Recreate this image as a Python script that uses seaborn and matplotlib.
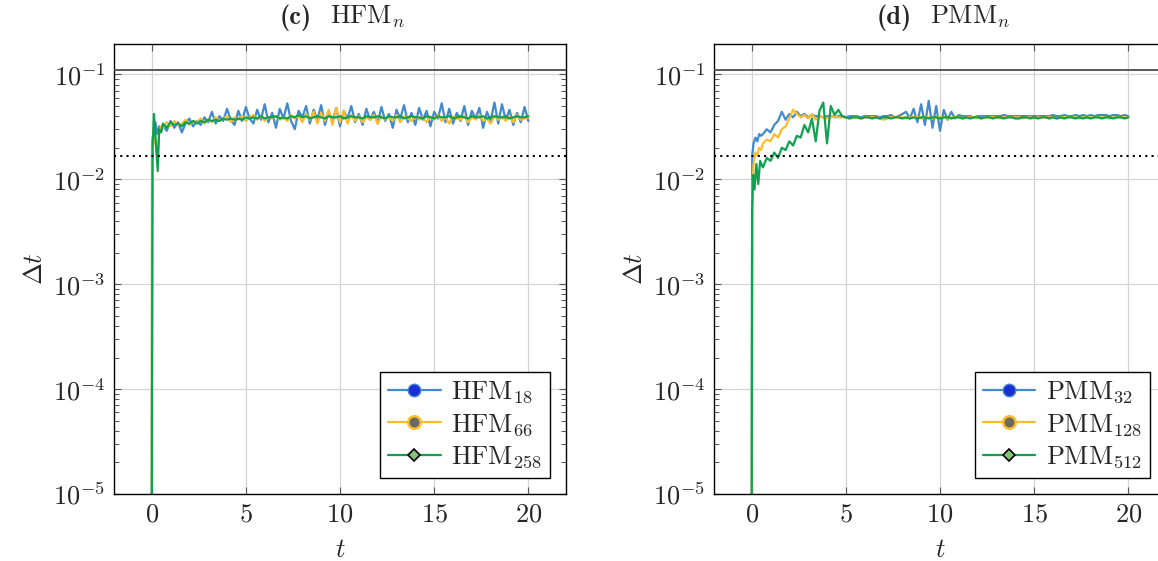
import numpy as np
import pandas as pd
import matplotlib
matplotlib.use("Agg")
import matplotlib.pyplot as plt
from matplotlib.lines import Line2D
from matplotlib.ticker import LogLocator, FixedLocator, NullFormatter
import seaborn as sns

# ---------------------------------------------------------------- data
# time-step history Delta t (in units of 1e-3) for each scheme
# start-up phase (irregular output times)
HFM18_T0 = [0.0, 0.02, 0.1, 0.2, 0.3, 0.4, 0.5]
HFM18_V0 = [0.001, 22, 28, 35, 27, 32, 29]
HFM66_T0 = [0.0, 0.02, 0.1, 0.2, 0.3, 0.4, 0.5]
HFM66_V0 = [0.001, 20, 30, 22, 17, 28, 32]
HFM258_T0 = [0.0, 0.05, 0.12, 0.2, 0.32, 0.4, 0.5]
HFM258_V0 = [0.001, 20, 42, 26, 12, 30, 28]

PMM32_T0 = [0.0, 0.03, 0.1, 0.2, 0.3, 0.4, 0.5]
PMM32_V0 = [0.001, 17, 22, 25, 23, 27, 26]
PMM128_T0 = [0.0, 0.03, 0.1, 0.2, 0.3, 0.4, 0.5]
PMM128_V0 = [0.001, 7, 14, 18, 17, 20, 19]
PMM512_T0 = [0.0, 0.02, 0.08, 0.15, 0.25, 0.35, 0.45]
PMM512_V0 = [0.001, 5, 11, 8, 14, 9, 15]

# regular output every 0.2 time units from t = 0.6 to t = 20
HFM18 = [33, 29, 36, 31, 35, 28, 34, 38, 32, 36,
         33, 39, 35, 44, 34, 40, 36, 47, 37, 33,
         45, 36, 49, 38, 34, 46, 37, 52, 35, 43,
         31, 47, 38, 53, 36, 30, 45, 39, 50, 34,
         46, 37, 51, 33, 44, 36, 48, 32, 45, 38,
         50, 35, 42, 33, 47, 37, 44, 34, 49, 36,
         42, 31, 46, 38, 51, 35, 43, 33, 48, 37,
         45, 32, 44, 38, 53, 35, 47, 34, 43, 36,
         50, 33, 45, 38, 48, 31, 44, 36, 54, 34,
         52, 37, 46, 33, 43, 35, 49, 36]
HFM66 = [31, 35, 32, 36, 33, 34, 37, 33, 36, 35,
         38, 34, 37, 35, 39, 36, 38, 40, 35, 39,
         37, 40, 36, 39, 41, 37, 40, 36, 39, 38,
         40, 37, 39, 36, 41, 38, 40, 35, 42, 37,
         44, 34, 43, 36, 46, 33, 48, 35, 45, 34,
         41, 36, 40, 35, 39, 37, 41, 34, 40, 37,
         39, 36, 41, 35, 40, 38, 36, 40, 37, 39,
         35, 40, 37, 41, 36, 39, 34, 40, 38, 37,
         40, 35, 39, 37, 41, 36, 38, 34, 40, 37,
         39, 36, 40, 35, 41, 37, 38, 39]
HFM258 = [34, 31, 35, 33, 34, 32, 35, 34, 36, 34,
          36, 35, 37, 36, 37, 36, 38, 37, 38, 37,
          38, 37, 39, 38, 39, 38, 40, 38, 39, 39,
          40, 38, 39, 38, 40, 39, 41, 39, 40, 38,
          39, 40, 39, 38, 40, 39, 39, 40, 38, 39,
          40, 39, 39, 38, 40, 39, 39, 40, 39, 38,
          40, 39, 39, 40, 38, 39, 40, 39, 39, 38,
          40, 39, 38, 40, 39, 39, 40, 38, 39, 40,
          39, 38, 40, 39, 39, 40, 38, 39, 40, 39,
          39, 40, 38, 39, 40, 39, 39, 40]

PMM32 = [27, 30, 28, 33, 36, 44, 37, 42, 39, 44,
         40, 42, 39, 41, 40, 40, 39, 40, 40, 39,
         40, 40, 39, 40, 40, 40, 39, 40, 40, 40,
         40, 39, 40, 40, 41, 39, 40, 42, 44, 38,
         47, 35, 52, 33, 56, 31, 50, 29, 46, 37,
         44, 38, 41, 40, 40, 40, 39, 40, 40, 40,
         40, 40, 40, 40, 41, 40, 40, 40, 40, 40,
         40, 40, 40, 40, 40, 40, 40, 41, 40, 40,
         41, 40, 40, 41, 40, 41, 40, 41, 40, 41,
         41, 41, 40, 41, 41, 40, 41, 40]
PMM128 = [22, 24, 23, 27, 25, 30, 32, 38, 46, 42,
          39, 41, 38, 42, 37, 40, 39, 38, 40, 39,
          39, 39, 39, 38, 39, 39, 38, 39, 39, 39,
          39, 38, 37, 38, 39, 39, 39, 39, 38, 39,
          39, 39, 38, 39, 39, 38, 39, 39, 39, 38,
          39, 39, 39, 38, 39, 39, 39, 39, 38, 39,
          39, 39, 39, 38, 39, 39, 39, 39, 39, 38,
          39, 39, 38, 39, 39, 39, 39, 39, 38, 39,
          39, 39, 39, 39, 38, 39, 39, 39, 39, 39,
          39, 39, 38, 39, 39, 39, 39, 39]
PMM512 = [13, 16, 15, 18, 16, 20, 19, 23, 21, 26,
          25, 33, 28, 38, 23, 45, 54, 22, 50, 41,
          46, 40, 39, 38, 39, 39, 38, 39, 39, 38,
          39, 38, 39, 39, 38, 39, 39, 38, 39, 38,
          39, 38, 39, 39, 38, 39, 39, 38, 39, 39,
          38, 39, 39, 38, 39, 38, 39, 39, 38, 39,
          39, 38, 39, 39, 38, 39, 39, 38, 38, 39,
          39, 38, 39, 38, 39, 39, 38, 39, 38, 39,
          38, 39, 39, 38, 39, 38, 39, 38, 39, 39,
          38, 39, 39, 38, 39, 39, 38, 39]

DT_MAX = 0.111      # upper stability bound
DT_REF = 0.0166     # reference step

PANELS = [
    ("(c)", "HFM$_n$",
     [("HFM$_{18}$", HFM18_T0, HFM18_V0, HFM18),
      ("HFM$_{66}$", HFM66_T0, HFM66_V0, HFM66),
      ("HFM$_{258}$", HFM258_T0, HFM258_V0, HFM258)]),
    ("(d)", "PMM$_n$",
     [("PMM$_{32}$", PMM32_T0, PMM32_V0, PMM32),
      ("PMM$_{128}$", PMM128_T0, PMM128_V0, PMM128),
      ("PMM$_{512}$", PMM512_T0, PMM512_V0, PMM512)]),
]

# ---------------------------------------------------------------- style
FS = 19
sns.set_theme(style="ticks")
plt.rcParams.update({
    "font.family": "serif",
    "font.serif": ["cmr10"],
    "mathtext.fontset": "cm",
    "axes.formatter.use_mathtext": True,
    "font.size": FS,
    "axes.linewidth": 1.0,
    "axes.edgecolor": "black",
})

COLORS = ["#4289ce", "#fdbd2a", "#10a050"]
HANDLE_STYLE = [
    dict(marker="o", markersize=9, markerfacecolor="#1c2fd6", markeredgecolor="#4289ce"),
    dict(marker="o", markersize=9, markerfacecolor="#6a6a62", markeredgecolor="#fdbd2a",
         markeredgewidth=1.8),
    dict(marker="D", markersize=6.5, markerfacecolor="#86c477", markeredgecolor="black",
         markeredgewidth=1.2),
]


def series_frame(t0, v0, vals):
    grid = np.round(0.6 + 0.2 * np.arange(len(vals)), 2)
    t = np.concatenate([t0, grid])
    v = np.concatenate([v0, vals]) * 1e-3
    return pd.DataFrame({"t": t, "dt": v})


fig = plt.figure(figsize=(11.58, 5.61), dpi=100)
W, H = 1158, 561
positions = [(114, 44, 452, 450), (714, 44, 452, 450)]

for (tag, name, series), (px, py, pw, ph) in zip(PANELS, positions):
    ax = fig.add_axes([px / W, 1 - (py + ph) / H, pw / W, ph / H])
    ax.set_yscale("log")
    ax.set_xlim(-2, 22)
    ax.set_ylim(1e-5, 0.195)

    ax.grid(True, which="major", color="#d4d4d4", lw=0.9)
    ax.set_axisbelow(True)

    handles = []
    for (label, t0, v0, vals), col, hs in zip(series, COLORS, HANDLE_STYLE):
        df = series_frame(t0, v0, vals)
        sns.lineplot(data=df, x="t", y="dt", ax=ax, color=col, lw=1.6,
                     estimator=None, sort=False, legend=False)
        handles.append(Line2D([], [], color=col, lw=1.6, label=label, **hs))

    ax.axhline(DT_MAX, color="#4d4d4d", lw=1.3, zorder=3)
    ax.axhline(DT_REF, color="black", lw=1.5, ls=(0, (1, 2)), zorder=3)

    ax.xaxis.set_major_locator(FixedLocator([0, 5, 10, 15, 20]))
    ax.yaxis.set_major_locator(LogLocator(base=10, numticks=10))
    ax.yaxis.set_minor_locator(LogLocator(base=10, subs=np.arange(2, 10), numticks=20))
    ax.yaxis.set_minor_formatter(NullFormatter())
    ax.tick_params(which="both", direction="in", top=True, right=True,
                   color="#555555", labelsize=FS, pad=6)
    ax.tick_params(which="major", length=5, width=0.8)
    ax.tick_params(which="minor", length=3.5, width=0.7)

    ax.set_xlabel("$t$", fontsize=FS, labelpad=9)
    ax.set_ylabel(r"$\Delta t$", fontsize=FS, labelpad=4)

    # panel heading: bold tag followed by the model name
    ax.text(0.438, 1.045, tag, transform=ax.transAxes, ha="right", va="baseline",
            fontsize=FS, family="cmb10")
    ax.text(0.478, 1.045, name, transform=ax.transAxes, ha="left", va="baseline",
            fontsize=FS)

    leg = ax.legend(handles=handles, loc="lower right", fontsize=FS,
                    frameon=True, fancybox=False, framealpha=1,
                    edgecolor="black", handlelength=2.0, handletextpad=0.4,
                    labelspacing=0.25, borderpad=0.3, borderaxespad=0.6)
    leg.get_frame().set_linewidth(1.0)

fig.savefig("out.png", dpi=100)
